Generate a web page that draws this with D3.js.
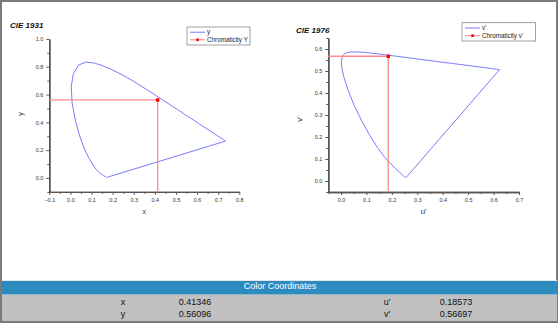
<!DOCTYPE html>
<html><head><meta charset="utf-8">
<script src="https://cdn.jsdelivr.net/npm/d3@7"></script>
<style>
html,body{margin:0;padding:0;background:#fff;}
svg{display:block;font-family:"Liberation Sans",Arial,sans-serif;}
</style></head>
<body>
<svg id="c" width="560" height="325"></svg>
<script>
// CIE 1931 spectral locus (x, y), closed by the purple line
const locusX = [0.1741,0.1733,0.1714,0.1689,0.1644,0.1566,0.1440,0.1355,0.1241,0.1096,0.0913,0.0687,0.0454,0.0235,0.0082,0.0039,0.0139,0.0389,0.0743,0.1142,0.1547,0.1929,0.2296,0.2658,0.3016,0.3373,0.3731,0.4087,0.4441,0.4788,0.5125,0.5448,0.5752,0.6029,0.6270,0.6482,0.6658,0.6915,0.7079,0.7190,0.7260,0.7300,0.7334,0.7347,0.1741];
const locusY = [0.0050,0.0048,0.0051,0.0069,0.0109,0.0177,0.0297,0.0399,0.0578,0.0868,0.1327,0.2007,0.2950,0.4127,0.5384,0.6548,0.7502,0.8120,0.8338,0.8262,0.8059,0.7816,0.7543,0.7243,0.6923,0.6589,0.6245,0.5896,0.5547,0.5202,0.4866,0.4544,0.4242,0.3965,0.3725,0.3514,0.3340,0.3083,0.2920,0.2809,0.2740,0.2700,0.2666,0.2653,0.0050];
// CIE 1976 spectral locus (u', v')
const locusU = [0.2568,0.2557,0.2522,0.2461,0.2347,0.2161,0.1877,0.1690,0.1441,0.1147,0.0828,0.0521,0.0282,0.0119,0.0035,0.0014,0.0046,0.0123,0.0231,0.0360,0.0501,0.0643,0.0792,0.0953,0.1127,0.1319,0.1531,0.1766,0.2026,0.2312,0.2623,0.2960,0.3315,0.3681,0.4035,0.4379,0.4692,0.5203,0.5565,0.5830,0.6005,0.6109,0.6199,0.6234,0.2568];
const locusV = [0.0166,0.0159,0.0169,0.0226,0.0350,0.0549,0.0871,0.1119,0.1510,0.2044,0.2708,0.3427,0.4117,0.4698,0.5131,0.5432,0.5638,0.5770,0.5837,0.5861,0.5868,0.5865,0.5856,0.5841,0.5821,0.5796,0.5766,0.5732,0.5694,0.5651,0.5604,0.5554,0.5501,0.5446,0.5393,0.5342,0.5296,0.5219,0.5165,0.5125,0.5099,0.5084,0.5070,0.5065,0.0166];
// chromaticity point
const pointXY = [0.41346, 0.56096];
const pointUV = [0.18573, 0.56697];
// tick labels
const xTicks1931 = [-0.1,0.0,0.1,0.2,0.3,0.4,0.5,0.6,0.7,0.8];
const yTicks1931 = [0.0,0.2,0.4,0.6,0.8,1.0];
const uTicks1976 = [0.0,0.1,0.2,0.3,0.4,0.5,0.6,0.7];
const vTicks1976 = [0.0,0.1,0.2,0.3,0.4,0.5,0.6];
// table
const tableTitle = "Color Coordinates";
const tableRows = [["x","0.41346","u'","0.18573"],["y","0.56096","v'","0.56697"]];

const svg = d3.select("#c");
const curveColor = "#7b7bff", crossColor = "#ff8a8a", axisColor = "#555";

// frame
svg.append("rect").attr("x",1).attr("y",1).attr("width",556).attr("height",321)
  .attr("fill","#fff").attr("stroke","#7a7a7a").attr("stroke-width",2);

function chart(o){
  const g = svg.append("g");
  const x = d3.scaleLinear().domain(o.xd).range(o.xr);
  const y = d3.scaleLinear().domain(o.yd).range(o.yr);
  const fmt = d3.format(".1f");
  // minor ticks
  const minorX = d3.axisBottom(x).tickValues(o.xMinor).tickSize(2).tickFormat("").tickSizeOuter(0);
  const minorY = d3.axisLeft(y).tickValues(o.yMinor).tickSize(2).tickFormat("").tickSizeOuter(0);
  const ax = d3.axisBottom(x).tickValues(o.xTicks).tickSize(3).tickSizeOuter(0).tickPadding(3).tickFormat(fmt);
  const ay = d3.axisLeft(y).tickValues(o.yTicks).tickSize(3).tickSizeOuter(0).tickPadding(3).tickFormat(fmt);
  const gx = g.append("g").attr("transform",`translate(0,${o.yr[0]})`);
  gx.append("g").call(minorX);
  gx.append("g").call(ax);
  const gy = g.append("g").attr("transform",`translate(${o.xr[0]},0)`);
  gy.append("g").call(minorY);
  gy.append("g").call(ay);
  g.selectAll(".domain").attr("stroke",axisColor).attr("stroke-width",1.4);
  g.selectAll(".tick line").attr("stroke",axisColor).attr("stroke-width",1);
  g.selectAll(".tick text").attr("fill","#333").style("font-size","5.5px").style("font-family","'Liberation Sans',Arial,sans-serif");

  // locus
  const line = d3.line().x(d=>x(d[0])).y(d=>y(d[1]));
  const pts = o.lx.map((v,i)=>[v,o.ly[i]]);
  g.append("path").attr("d",line(pts)).attr("fill","none").attr("stroke",curveColor).attr("stroke-width",1);

  // crosshair
  const px = x(o.p[0]), py = y(o.p[1]);
  g.append("line").attr("x1",x(o.xd[0])).attr("x2",px).attr("y1",py).attr("y2",py)
    .attr("stroke",crossColor).attr("stroke-width",1.3);
  g.append("line").attr("x1",px).attr("x2",px).attr("y1",py).attr("y2",y(o.yd[0]))
    .attr("stroke",crossColor).attr("stroke-width",1.3);
  g.append("rect").attr("x",px-1.7).attr("y",py-1.7).attr("width",3.4).attr("height",3.4).attr("fill","#ff0000");

  // titles
  g.append("text").attr("x",o.title[1]).attr("y",o.title[2]).text(o.title[0])
    .style("font-size","8px").style("font-weight","bold").style("font-style","italic").attr("fill","#111");
  g.append("text").attr("x",(o.xr[0]+o.xr[1])/2 + o.xlabOff).attr("y",o.yr[0]+22).attr("text-anchor","middle")
    .text(o.xlab).style("font-size",o.labSize).attr("fill","#333");
  g.append("text").attr("transform",`translate(${o.ylabX},${o.ylabY}) rotate(-90)`).attr("text-anchor","middle")
    .text(o.ylab).style("font-size",o.labSize).attr("fill","#333");

  // legend
  const L = o.leg;
  g.append("rect").attr("x",L.x).attr("y",L.y).attr("width",L.w).attr("height",L.h)
    .attr("fill","#fff").attr("stroke","#888").attr("stroke-width",0.8);
  const r1 = L.y + L.h*0.29, r2 = L.y + L.h*0.71;
  g.append("line").attr("x1",L.x+3).attr("x2",L.x+18).attr("y1",r1).attr("y2",r1).attr("stroke",curveColor).attr("stroke-width",1);
  g.append("line").attr("x1",L.x+3).attr("x2",L.x+18).attr("y1",r2).attr("y2",r2).attr("stroke",crossColor).attr("stroke-width",1);
  g.append("rect").attr("x",L.x+9.3).attr("y",r2-1.3).attr("width",2.6).attr("height",2.6).attr("fill","#ff0000");
  g.append("text").attr("x",L.x+20).attr("y",r1+2).text(L.t1).style("font-size","6.3px").attr("fill","#222");
  g.append("text").attr("x",L.x+20).attr("y",r2+2).text(L.t2).style("font-size","6.3px").attr("fill","#222");
}

chart({
  xd:[-0.1,0.8], xr:[49.3,239.3], yd:[-0.1,1.0], yr:[191.9,38.9],
  xTicks:xTicks1931, yTicks:yTicks1931,
  xMinor:[-0.05,0.05,0.15,0.25,0.35,0.45,0.55,0.65,0.75],
  yMinor:[-0.1,0.1,0.3,0.5,0.7,0.9],
  lx:locusX, ly:locusY, p:pointXY,
  title:["CIE 1931",10,28], xlab:"x", ylab:"y", xlabOff:0, labSize:"7px", ylabX:23, ylabY:114,
  leg:{x:187,y:27,w:63,h:18,t1:"y",t2:"Chromaticity Y"}
});
chart({
  xd:[-0.05,0.7], xr:[328.3,519], yd:[-0.05,0.65], yr:[192,38],
  xTicks:uTicks1976, yTicks:vTicks1976,
  xMinor:[-0.05,0.05,0.15,0.25,0.35,0.45,0.55,0.65],
  yMinor:[-0.05,0.05,0.15,0.25,0.35,0.45,0.55,0.65],
  lx:locusU, ly:locusV, p:pointUV,
  title:["CIE 1976",296,33], xlab:"u'", ylab:"v'", xlabOff:0, labSize:"8px", ylabX:302, ylabY:119,
  leg:{x:462,y:22.7,w:73.5,h:18.3,t1:"v'",t2:"Chromaticity v'"}
});

// table
svg.append("rect").attr("x",2).attr("y",280).attr("width",555).attr("height",1).attr("fill","#e6e6e6");
svg.append("rect").attr("x",2).attr("y",281).attr("width",555).attr("height",13).attr("fill","#2e8bc0");
svg.append("rect").attr("x",2).attr("y",294).attr("width",555).attr("height",1).attr("fill","#8fb8cf");
svg.append("rect").attr("x",2).attr("y",295).attr("width",555).attr("height",26).attr("fill","#c0c0c0");
svg.append("text").attr("x",280).attr("y",289).attr("text-anchor","middle").text(tableTitle)
  .style("font-size","9px").attr("fill","#fff");
const colX = [123,195,387,456];
tableRows.forEach((row,i)=>{
  row.forEach((t,j)=>{
    svg.append("text").attr("x",colX[j]).attr("y",305+i*12).attr("text-anchor","middle").text(t)
      .style("font-size","9px").attr("fill","#111");
  });
});
</script>
</body></html>
